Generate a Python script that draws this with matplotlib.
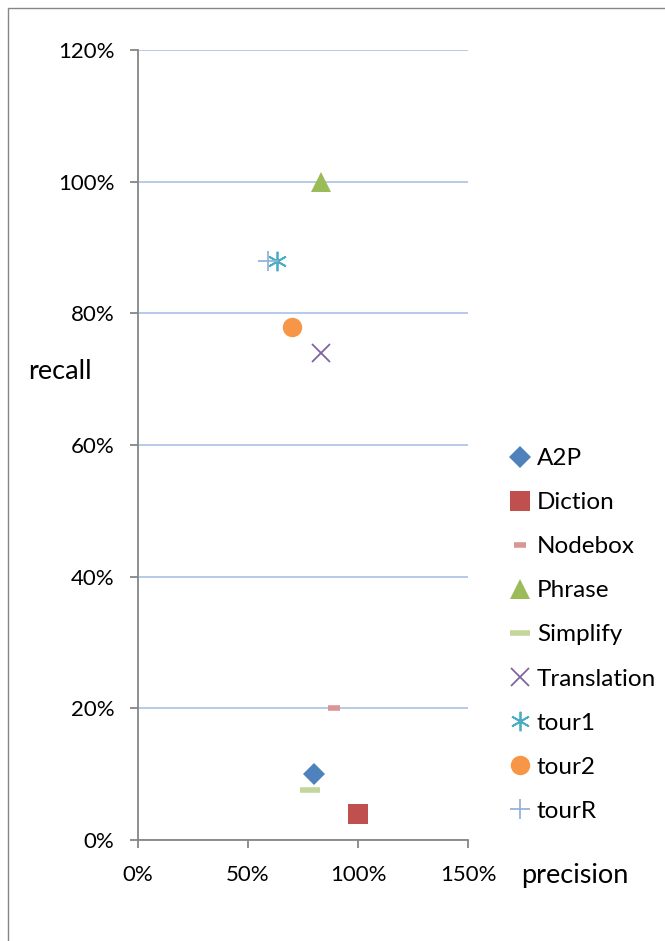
import matplotlib.pyplot as plt
from matplotlib.patches import Rectangle
from matplotlib.ticker import PercentFormatter

plt.rcParams['font.family'] = ['Lato', 'DejaVu Sans']

names = ['A2P', 'Diction', 'Nodebox', 'Phrase', 'Simplify', 'Translation', 'tour1', 'tour2', 'tourR']
precision = [80, 100, 89, 83, 78, 83, 63, 70, 59]
recall = [10, 4, 20, 100, 7.6, 74, 88, 78, 88]

colors = ['#4f81bd', '#c0504d', '#d99694', '#9bbb59', '#c3d69b', '#8064a2', '#4bacc6', '#f79646', '#95b3d7']
markers = ['D', 's', '_', '^', '_', 'x', (6, 2, 0), 'o', '+']
sizes = [11, 14, 8, 15, 14, 13, 14, 14, 14]
edge_w = [0, 0, 4, 0, 4, 1.3, 1.3, 0, 1.3]

fig = plt.figure(figsize=(6.65, 9.41), dpi=100)
fig.patches.append(Rectangle((8 / 665, -0.1), 1.2, (941 - 8) / 941 + 0.1,
                             transform=fig.transFigure, fill=False,
                             edgecolor='#868686', linewidth=1))
ax = fig.add_axes([138 / 665, 101 / 941, 330 / 665, 790 / 941])

for n, x, y, c, m, s, w in zip(names, precision, recall, colors, markers, sizes, edge_w):
    ax.plot(x, y, linestyle='none', marker=m, color=c, markersize=s,
            markeredgewidth=w, label=n, zorder=3)

ax.set_xlim(0, 150)
ax.set_ylim(0, 120)
ax.set_xticks([0, 50, 100, 150])
ax.set_yticks([0, 20, 40, 60, 80, 100, 120])
ax.xaxis.set_major_formatter(PercentFormatter(decimals=0))
ax.yaxis.set_major_formatter(PercentFormatter(decimals=0))
ax.grid(axis='y', color='#b3c6e7', linewidth=1.3)
ax.set_axisbelow(True)
for s in ['top', 'right']:
    ax.spines[s].set_visible(False)
for s in ['left', 'bottom']:
    ax.spines[s].set_color('#868686')
    ax.spines[s].set_linewidth(1.3)
ax.tick_params(colors='#868686', width=1.3, length=6, labelcolor='black', labelsize=16)
ax.tick_params(axis='x', pad=12)
ax.tick_params(axis='y', pad=11)

fig.text(28 / 665, 1 - 371 / 941, 'recall', fontsize=19.5, ha='left', va='center')
fig.text(575 / 665, 1 - 875 / 941, 'precision', fontsize=19.5, ha='center', va='center')

fig.legend(loc='upper left', bbox_to_anchor=(510 / 665, 1 - 448 / 941), frameon=False,
           fontsize=17.5, handlelength=0.85, handletextpad=0.25, labelspacing=0.95,
           borderaxespad=0, borderpad=0)

plt.savefig('out.png', dpi=100)
